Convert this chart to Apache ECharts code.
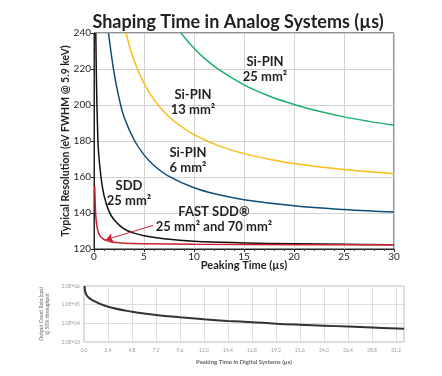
<!DOCTYPE html>
<html lang="en" style="height: 100%">
<head>
<meta charset="utf-8">
<title>Shaping Time in Analog Systems</title>
</head>
<body style="height: 100%; margin: 0; background: #fff">
<div id="container" style="width: 442px; height: 376px"></div>
<script type="text/javascript" src="https://cdn.jsdelivr.net/npm/echarts/dist/echarts.min.js"></script>
<script type="text/javascript">

// Analog systems: [peaking time (us), resolution (eV FWHM)]
var siPin25 = [[8.7, 240], [10, 231.5], [11, 226.2], [12.5, 219.6], [15, 211.2], [17.5, 205], [20, 200.3], [22.5, 196.5], [25, 193.4], [27.5, 190.9], [30, 188.7]];
var siPin13 = [[3.2, 240], [4, 224.9], [5, 212], [6, 203], [7, 196.3], [8, 191.1], [10, 183.5], [12.5, 177.3], [15, 173], [17.5, 169.9], [20, 167.5], [25, 164.1], [30, 161.8]];
var siPin6 = [[1.45, 240], [2, 218.1], [2.5, 204], [3, 193.5], [4, 180.7], [5, 172.3], [6, 166.4], [7.5, 160.3], [10, 154], [12.5, 150.1], [15, 147.4], [20, 144], [25, 141.9], [30, 140.5]];
var sdd25 = [[0.18, 240], [0.25, 212], [0.35, 188], [0.45, 174], [0.7, 160], [1, 149.8], [1.5, 140.9], [2, 136.3], [3, 131.2], [4, 128.8], [5, 127.4], [7, 125.7], [10, 124.3], [15, 123.4], [20, 122.9], [25, 122.6], [30, 122.4]];
var fastSdd = [[0.07, 155], [0.1, 149.5], [0.15, 141.6], [0.2, 137], [0.3, 132.4], [0.5, 128.2], [0.75, 126.4], [1, 125.3], [1.5, 124.3], [2, 123.7], [3, 123.2], [5, 122.9], [10, 122.6], [20, 122.4], [30, 122.3]];
var arrowFrom = [5.9, 133.1];
var arrowTo = [1.2, 125.2];

// Digital systems: [peaking time (us), output count rate (cps)]
var digitalRate = [[0.05, 1000000], [0.26, 320000], [0.87, 170000], [2.4, 77000], [4.8, 42000], [7.2, 28000], [9.6, 21000], [12, 16500], [14.4, 13500], [16.8, 11500], [19.2, 9600], [21.6, 8400], [24, 7500], [26.4, 6700], [28.8, 6000], [32, 5100]];

var FONT = 'Lato';
var TXT = '#231f20';

var dom = document.getElementById('container');
var myChart = echarts.init(dom, null, { renderer: 'canvas' });

function curve(name, data, color) {
    return {
        name: name,
        type: 'line',
        xAxisIndex: 0,
        yAxisIndex: 0,
        data: data,
        showSymbol: false,
        smooth: 0.4,
        lineStyle: { color: color, width: 1.5 },
        itemStyle: { color: color },
        z: 3
    };
}

function label(text, x, y) {
    return {
        type: 'text',
        x: x,
        y: y,
        style: {
            text: text,
            fill: TXT,
            font: 'bold 13px ' + FONT,
            textAlign: 'center',
            textVerticalAlign: 'middle',
            lineHeight: 15
        },
        z: 10
    };
}

var option = {
    animation: false,
    textStyle: { fontFamily: FONT },
    title: {
        text: 'Shaping Time in Analog Systems (µs)',
        left: 233,
        textAlign: 'center',
        top: 8,
        textStyle: { fontFamily: FONT, fontSize: 18, fontWeight: 'bold', color: TXT }
    },
    grid: [
        { left: 94, top: 33, width: 300, height: 216, show: true, borderColor: '#222', borderWidth: 1, backgroundColor: 'transparent' },
        { left: 84, top: 286, width: 320, height: 56, show: true, borderColor: '#bbb', borderWidth: 1, backgroundColor: 'transparent' }
    ],
    xAxis: [
        {
            type: 'value', gridIndex: 0, min: 0, max: 30, interval: 5,
            name: 'Peaking Time (µs)', nameLocation: 'middle', nameGap: 11, nameMoveOverlap: false,
            nameTextStyle: { fontSize: 11, fontWeight: 'bold', color: TXT },
            axisLine: { show: true, lineStyle: { color: '#222' } },
            axisTick: { show: true, length: 3, lineStyle: { color: '#222' } },
            minorTick: { show: true, splitNumber: 5, length: 2, lineStyle: { color: '#444' } },
            axisLabel: { fontSize: 10, color: TXT, margin: 3 },
            splitLine: { show: true, lineStyle: { color: '#d2d2d2' } }
        },
        {
            type: 'value', gridIndex: 1, min: 0, max: 32, interval: 2.4,
            name: 'Peaking Time in Digital Systems (µs)', nameLocation: 'middle', nameGap: 17,
            nameTextStyle: { fontSize: 6, fontWeight: 'bold', color: '#666' },
            axisLine: { show: false },
            axisTick: { show: false },
            axisLabel: { fontSize: 5, color: '#999', margin: 6, showMaxLabel: false,
                formatter: function (v) { return v.toFixed(1); } },
            splitLine: { show: true, lineStyle: { color: '#ddd' } }
        }
    ],
    yAxis: [
        {
            type: 'value', gridIndex: 0, min: 120, max: 240, interval: 20,
            name: 'Typical Resolution (eV FWHM @ 5.9 keV)', nameLocation: 'middle', nameGap: 23, nameMoveOverlap: false,
            nameTextStyle: { fontSize: 10.5, fontWeight: 'bold', color: TXT },
            axisLine: { show: true, lineStyle: { color: '#222' } },
            axisTick: { show: true, length: 3, lineStyle: { color: '#222' } },
            axisLabel: { fontSize: 10, color: TXT, margin: 3 },
            splitLine: { show: true, lineStyle: { color: '#d2d2d2' } }
        },
        {
            type: 'log', gridIndex: 1, min: 1000, max: 1000000, logBase: 10,
            name: 'Output Count Rate (cps)\n@ 50% throughput', nameLocation: 'middle', nameGap: 22,
            nameTextStyle: { fontSize: 5, fontWeight: 'bold', color: '#888', lineHeight: 6 },
            axisLine: { show: false },
            axisTick: { show: false },
            axisLabel: { fontSize: 5, color: '#999', margin: 4,
                formatter: function (v) { return '1.0E+0' + Math.round(Math.log10(v)); } },
            splitLine: { show: true, lineStyle: { color: '#ddd' } }
        }
    ],
    series: [
        curve('Si-PIN 25 mm²', siPin25, '#1eb06c'),
        curve('Si-PIN 13 mm²', siPin13, '#f8bd19'),
        curve('Si-PIN 6 mm²', siPin6, '#0e4d78'),
        curve('SDD 25 mm²', sdd25, '#111111'),
        (function () {
            var s = curve('FAST SDD 25 mm² and 70 mm²', fastSdd, '#cc1f2f');
            s.markLine = {
                silent: true,
                symbol: ['none', 'arrow'],
                symbolSize: 7,
                label: { show: false },
                lineStyle: { color: '#cc1f2f', width: 1, type: 'solid' },
                data: [[{ coord: arrowFrom }, { coord: arrowTo }]]
            };
            return s;
        })(),
        {
            name: 'Digital',
            type: 'line',
            xAxisIndex: 1,
            yAxisIndex: 1,
            data: digitalRate,
            showSymbol: false,
            smooth: 0.4,
            lineStyle: { color: '#333', width: 2 }
        }
    ],
    graphic: [
        label('Si-PIN\n25 mm²', 265, 69),
        label('Si-PIN\n13 mm²', 193, 102),
        label('Si-PIN\n6 mm²', 188, 160),
        label('SDD\n25 mm²', 129, 193),
        label('FAST SDD®\n25 mm² and 70 mm²', 214, 219)
    ]
};

myChart.setOption(option);
window.addEventListener('resize', myChart.resize);
</script>
</body>
</html>
